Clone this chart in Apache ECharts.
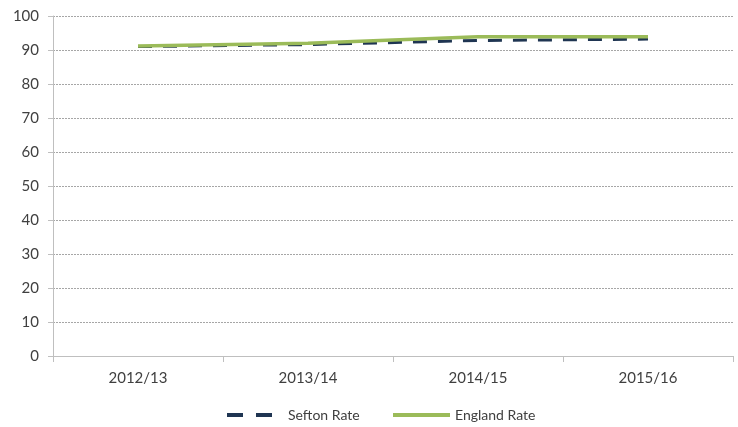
<!DOCTYPE html>
<html><head><meta charset="utf-8">
<script src="https://cdn.jsdelivr.net/npm/echarts@6/dist/echarts.min.js"></script>
<style>html,body{margin:0;padding:0;background:#fff}#c{width:738px;height:427px}</style>
</head><body><div id="c"></div>
<script>
const categories = ['2012/13', '2013/14', '2014/15', '2015/16'];
const seftonRate = [91.0, 91.6, 92.8, 93.2];
const englandRate = [91.2, 92.0, 93.9, 93.9];
const yTicks = [0, 10, 20, 30, 40, 50, 60, 70, 80, 90, 100];

const chart = echarts.init(document.getElementById('c'));
const font = 'Lato, "Open Sans", sans-serif';
const legText = { fontFamily: font, fontSize: 14, color: '#404040' };
chart.setOption({
  animation: false,
  grid: { left: 53, right: 5, top: 16, bottom: 71 },
  legend: [
    {
      left: 222, top: 403, itemWidth: 45, itemHeight: 4,
      textStyle: Object.assign({ padding: [0, 0, 0, 11] }, legText),
      data: [{ name: 'Sefton Rate', icon: 'path://M0,0h16v4h-16z M29,0h16v4h-16z' }]
    },
    {
      left: 388, top: 403, itemWidth: 57, itemHeight: 4,
      textStyle: legText,
      data: [{ name: 'England Rate', icon: 'rect' }]
    }
  ],
  xAxis: {
    type: 'category', data: categories, boundaryGap: true,
    axisLine: { lineStyle: { color: '#bfbfbf', width: 1 } },
    axisTick: { show: true, alignWithLabel: false, length: 6, lineStyle: { color: '#bfbfbf' } },
    axisLabel: { fontFamily: font, fontSize: 15, color: '#404040', margin: 15 }
  },
  yAxis: {
    type: 'value', min: yTicks[0], max: yTicks[yTicks.length - 1], interval: 10,
    axisLine: { show: true, lineStyle: { color: '#bfbfbf', width: 1 } },
    axisTick: { show: true, length: 5, lineStyle: { color: '#bfbfbf' } },
    axisLabel: { fontFamily: font, fontSize: 15, color: '#404040', margin: 14 },
    splitLine: { show: true, lineStyle: { color: '#a6a6a6', type: [2, 1], width: 1 } }
  },
  series: [
    {
      name: 'Sefton Rate', type: 'line', data: seftonRate, symbol: 'none',
      lineStyle: { color: '#1f3552', width: 3, type: [14, 11] },
      itemStyle: { color: '#1f3552' }, z: 2
    },
    {
      name: 'England Rate', type: 'line', data: englandRate, symbol: 'none',
      lineStyle: { color: '#9bbb59', width: 3.5 },
      itemStyle: { color: '#9bbb59' }, z: 3
    }
  ]
});
</script></body></html>
